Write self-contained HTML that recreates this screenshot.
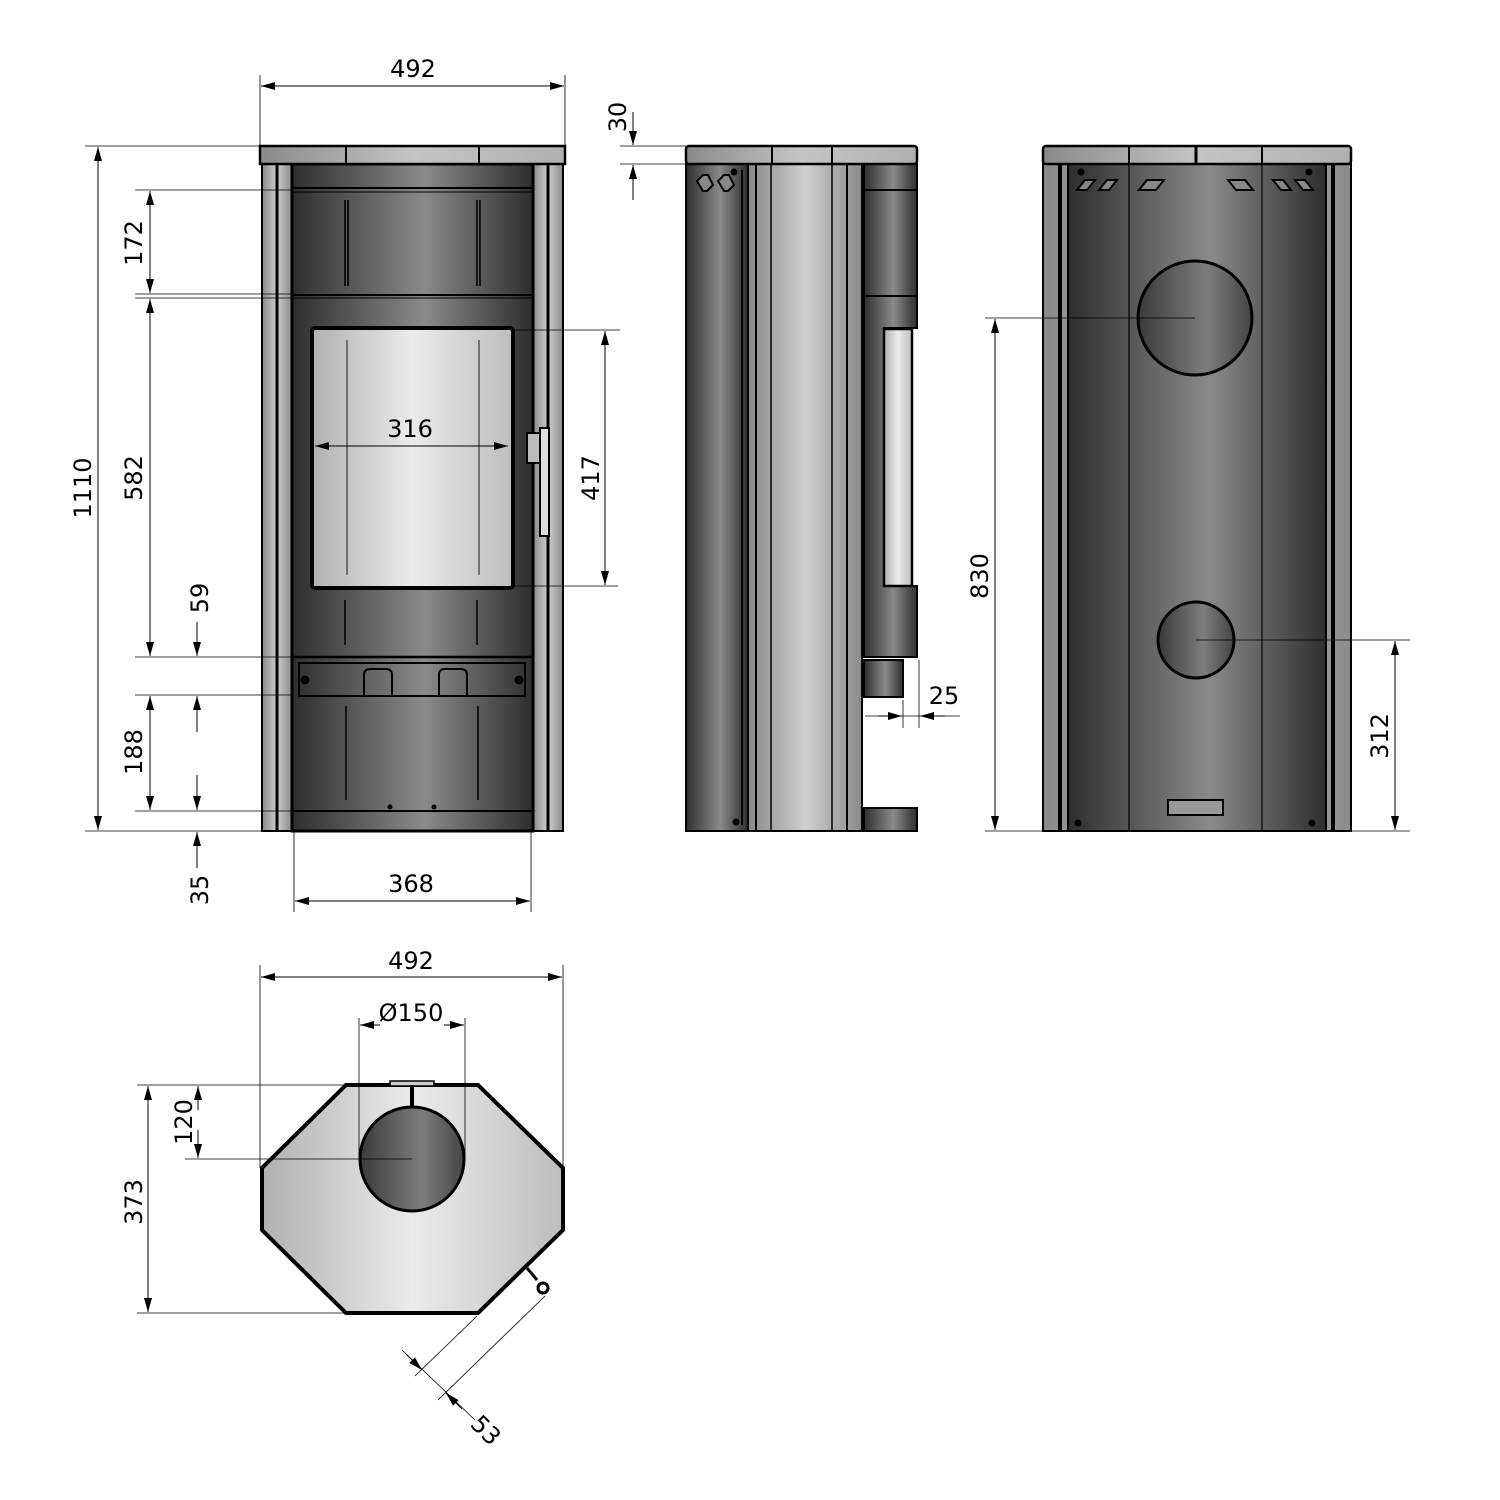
<!DOCTYPE html>
<html><head><meta charset="utf-8"><style>html,body{margin:0;padding:0;background:#fff}svg{display:block}text{font-family:"DejaVu Sans","Liberation Sans",sans-serif;font-size:24px;fill:#000}</style></head><body>
<svg width="1500" height="1500" viewBox="0 0 1500 1500" xmlns="http://www.w3.org/2000/svg">
<defs>
<linearGradient id="dk" x1="0" x2="1" y1="0" y2="0"><stop offset="0" stop-color="#2e2e2e"/><stop offset="0.55" stop-color="#8a8a8a"/><stop offset="1" stop-color="#2e2e2e"/></linearGradient>
<linearGradient id="lt" x1="0" x2="1"><stop offset="0" stop-color="#8a8a8a"/><stop offset="0.5" stop-color="#c4c4c4"/><stop offset="1" stop-color="#b0b0b0"/></linearGradient>
<linearGradient id="win" x1="0" x2="1"><stop offset="0" stop-color="#b0b0b0"/><stop offset="0.5" stop-color="#ebebeb"/><stop offset="1" stop-color="#bdbdbd"/></linearGradient>
<linearGradient id="pil" x1="0" x2="1"><stop offset="0" stop-color="#888"/><stop offset="0.5" stop-color="#cfcfcf"/><stop offset="1" stop-color="#8a8a8a"/></linearGradient>
<linearGradient id="cir" x1="0" x2="1"><stop offset="0" stop-color="#3a3a3a"/><stop offset="0.6" stop-color="#7d7d7d"/><stop offset="1" stop-color="#444"/></linearGradient>
<marker id="a" viewBox="0 0 14 8" refX="14" refY="4" markerWidth="14" markerHeight="8" orient="auto-start-reverse" markerUnits="userSpaceOnUse"><path d="M0,0L14,4L0,8z"/></marker>
</defs>
<g stroke="#000" stroke-width="1" fill="none">
<!-- ===== FRONT VIEW ===== -->
<rect x="262" y="164" width="30" height="667" fill="url(#pil)" stroke-width="2"/>
<line x1="277" y1="164" x2="277" y2="831" stroke-width="3"/>
<rect x="533" y="164" width="30" height="667" fill="url(#pil)" stroke-width="2"/>
<line x1="548" y1="164" x2="548" y2="831" stroke-width="3"/>
<rect x="292" y="164" width="241" height="667" fill="url(#dk)" stroke-width="3"/>
<rect x="260" y="146" width="305" height="18" fill="url(#lt)" stroke-width="2.5"/>
<line x1="346" y1="146" x2="346" y2="164" stroke-width="2"/><line x1="479" y1="146" x2="479" y2="164" stroke-width="2"/>
<line x1="292" y1="188" x2="533" y2="188" stroke-width="2"/><line x1="292" y1="192" x2="533" y2="192" stroke-width="1"/>
<line x1="292" y1="295" x2="533" y2="295" stroke-width="2"/><line x1="292" y1="298" x2="533" y2="298" stroke-width="1"/>
<g stroke-width="1.5"><line x1="345" y1="200" x2="345" y2="286"/><line x1="348" y1="200" x2="348" y2="286"/><line x1="477" y1="200" x2="477" y2="286"/><line x1="480" y1="200" x2="480" y2="286"/>
<line x1="345" y1="600" x2="345" y2="645"/><line x1="477" y1="600" x2="477" y2="645"/>
<line x1="346" y1="706" x2="346" y2="800"/><line x1="478" y1="706" x2="478" y2="800"/></g>
<rect x="312" y="328" width="201" height="260" rx="3" fill="url(#win)" stroke-width="4"/>
<line x1="347" y1="340" x2="347" y2="575" stroke="#555" stroke-width="1.5"/><line x1="479" y1="340" x2="479" y2="575" stroke="#555" stroke-width="1.5"/>
<line x1="292" y1="657" x2="533" y2="657" stroke-width="2.5"/>
<rect x="299" y="663" width="226" height="33" stroke-width="2"/>
<circle cx="305" cy="680" r="4" fill="#000"/><circle cx="519" cy="680" r="4" fill="#000"/>
<path d="M364,697v-22q0,-6 6,-6h16q6,0 6,6v22" stroke-width="2"/><path d="M439,697v-22q0,-6 6,-6h16q6,0 6,6v22" stroke-width="2"/>
<line x1="292" y1="811" x2="533" y2="811" stroke-width="2"/>
<circle cx="390" cy="807" r="2" fill="#000"/><circle cx="434" cy="807" r="2" fill="#000"/>
<rect x="540" y="428" width="9" height="108" fill="#ddd" stroke-width="2"/><rect x="527" y="433" width="13" height="30" fill="#bbb" stroke-width="2"/>
<!-- front dims -->
<g stroke-width="0.8">
<line x1="260" y1="75" x2="260" y2="146"/><line x1="565" y1="75" x2="565" y2="146"/>
<line x1="85" y1="146" x2="260" y2="146"/><line x1="85" y1="831" x2="262" y2="831"/>
<line x1="135" y1="190" x2="292" y2="190"/><line x1="135" y1="294" x2="292" y2="294"/><line x1="135" y1="298" x2="292" y2="298"/>
<line x1="135" y1="657" x2="292" y2="657"/><line x1="135" y1="695" x2="292" y2="695"/><line x1="135" y1="811" x2="292" y2="811"/>
<line x1="294" y1="831" x2="294" y2="912"/><line x1="531" y1="831" x2="531" y2="912"/>
<line x1="512" y1="330" x2="620" y2="330"/><line x1="512" y1="586" x2="618" y2="586"/>
</g>
<g stroke-width="1" marker-start="url(#a)" marker-end="url(#a)">
<line x1="261" y1="86" x2="564" y2="86"/>
<line x1="98" y1="147" x2="98" y2="830"/>
<line x1="150" y1="191" x2="150" y2="293"/>
<line x1="150" y1="299" x2="150" y2="656"/>
<line x1="150" y1="696" x2="150" y2="810"/>
<line x1="295" y1="901" x2="530" y2="901"/>
<line x1="315" y1="446" x2="508" y2="446"/>
<line x1="605" y1="331" x2="605" y2="585"/>
</g>
<g stroke-width="1" marker-end="url(#a)">
<line x1="197" y1="622" x2="197" y2="656"/><line x1="197" y1="732" x2="197" y2="696"/>
<line x1="197" y1="775" x2="197" y2="810"/><line x1="197" y1="868" x2="197" y2="832"/>
</g>
<!-- ===== SIDE VIEW ===== -->
<rect x="686" y="164" width="62" height="667" fill="url(#dk)" stroke-width="2"/>
<rect x="748" y="164" width="114" height="667" fill="url(#pil)" stroke-width="2"/>
<line x1="756" y1="164" x2="756" y2="831" stroke-width="2"/><line x1="771" y1="164" x2="771" y2="831" stroke-width="1.5"/>
<line x1="832" y1="164" x2="832" y2="831" stroke-width="1.5"/><line x1="847" y1="164" x2="847" y2="831" stroke-width="2"/>
<line x1="742" y1="170" x2="742" y2="825" stroke-width="2"/>
<path d="M864,164H917V328H884V586H917V657H864Z" fill="url(#dk)" stroke-width="2"/>
<line x1="864" y1="190" x2="917" y2="190" stroke-width="2"/><line x1="864" y1="296" x2="917" y2="296" stroke-width="2"/>
<rect x="884" y="329" width="28" height="257" fill="url(#win)" stroke-width="2.5"/>
<path d="M864,660H903V697H864Z" fill="url(#dk)" stroke-width="2"/>
<rect x="864" y="808" width="53" height="23" fill="url(#dk)" stroke-width="2"/>
<rect x="686" y="146" width="231" height="18" rx="3" fill="url(#lt)" stroke-width="2.5"/>
<line x1="772" y1="146" x2="772" y2="164" stroke-width="2"/><line x1="832" y1="146" x2="832" y2="164" stroke-width="2"/>
<g fill="#888" stroke-width="2"><path d="M697,181l6,-6h5l5,10-6,6h-4z"/><path d="M718,181l6,-6h5l5,10-6,6h-4z"/></g>
<circle cx="734" cy="172" r="3" fill="#000"/><circle cx="736" cy="822" r="3" fill="#000"/>
<g stroke-width="0.8"><line x1="620" y1="146" x2="686" y2="146"/><line x1="620" y1="164" x2="686" y2="164"/>
<line x1="903" y1="700" x2="903" y2="728"/><line x1="919" y1="660" x2="919" y2="728"/><line x1="865" y1="716" x2="960" y2="716"/></g>
<g stroke-width="1" marker-end="url(#a)">
<line x1="633" y1="112" x2="633" y2="145"/><line x1="633" y1="200" x2="633" y2="165"/>
<line x1="878" y1="716" x2="902" y2="716"/><line x1="945" y1="716" x2="920" y2="716"/>
</g>
<!-- ===== BACK VIEW ===== -->
<rect x="1043" y="164" width="308" height="667" fill="url(#pil)" stroke-width="2"/>
<rect x="1068" y="164" width="258" height="667" fill="url(#dk)" stroke-width="2"/>
<line x1="1060" y1="164" x2="1060" y2="831" stroke-width="4"/><line x1="1333" y1="164" x2="1333" y2="831" stroke-width="4"/>
<line x1="1129" y1="164" x2="1129" y2="831" stroke-width="1.2"/><line x1="1262" y1="164" x2="1262" y2="831" stroke-width="1.2"/>
<rect x="1043" y="146" width="308" height="18" rx="3" fill="url(#lt)" stroke-width="2.5"/>
<line x1="1129" y1="146" x2="1129" y2="164" stroke-width="2"/><line x1="1196" y1="146" x2="1196" y2="164" stroke-width="3"/><line x1="1262" y1="146" x2="1262" y2="164" stroke-width="2"/>
<g fill="#888" stroke-width="2">
<path d="M1077,190l8,-10h10l-8,10z"/><path d="M1099,190l8,-10h10l-8,10z"/><path d="M1139,190l8,-10h17l-8,10z"/>
<path d="M1253,190l-8,-10h-17l8,10z"/><path d="M1291,190l-8,-10h-10l8,10z"/><path d="M1313,190l-8,-10h-10l8,10z"/></g>
<circle cx="1081" cy="172" r="3" fill="#000"/><circle cx="1309" cy="172" r="3" fill="#000"/>
<circle cx="1078" cy="823" r="3" fill="#000"/><circle cx="1312" cy="823" r="3" fill="#000"/>
<circle cx="1195" cy="318" r="57" fill="url(#cir)" stroke-width="3"/>
<circle cx="1196" cy="640" r="38" fill="url(#cir)" stroke-width="3"/>
<rect x="1168" y="800" width="55" height="15" fill="#999" stroke-width="2"/>
<g stroke-width="0.8"><line x1="985" y1="318" x2="1195" y2="318"/><line x1="985" y1="831" x2="1043" y2="831"/>
<line x1="1196" y1="640" x2="1410" y2="640"/><line x1="1351" y1="831" x2="1410" y2="831"/></g>
<g stroke-width="1" marker-start="url(#a)" marker-end="url(#a)">
<line x1="995" y1="319" x2="995" y2="830"/><line x1="1395" y1="641" x2="1395" y2="830"/></g>
<!-- ===== TOP VIEW ===== -->
<polygon points="346,1085 478,1085 563,1168 563,1230 478,1313 346,1313 262,1230 262,1168" fill="url(#win)" stroke-width="4"/>
<rect x="390" y="1081" width="44" height="5" fill="#ccc" stroke-width="1.5"/>
<line x1="412" y1="1085" x2="412" y2="1108" stroke-width="4"/>
<circle cx="412" cy="1159" r="52" fill="url(#cir)" stroke-width="3"/>
<path d="M527,1268l10,12" stroke-width="3"/><circle cx="543" cy="1288" r="5" fill="#fff" stroke-width="3"/>
<g stroke-width="0.8">
<line x1="260" y1="965" x2="260" y2="1168"/><line x1="563" y1="965" x2="563" y2="1168"/>
<line x1="359" y1="1018" x2="359" y2="1159"/><line x1="465" y1="1018" x2="465" y2="1159"/>
<line x1="137" y1="1085" x2="346" y2="1085"/><line x1="185" y1="1159" x2="412" y2="1159"/><line x1="137" y1="1313" x2="346" y2="1313"/>
<line x1="477" y1="1316" x2="415" y2="1376"/><line x1="545" y1="1296" x2="438" y2="1400"/>
<line x1="402" y1="1350" x2="475" y2="1420"/>
</g>
<g stroke-width="1" marker-start="url(#a)" marker-end="url(#a)">
<line x1="261" y1="977" x2="562" y2="977"/><line x1="148" y1="1086" x2="148" y2="1312"/></g>
<g stroke-width="1" marker-end="url(#a)">
<line x1="380" y1="1025" x2="360" y2="1025"/><line x1="444" y1="1025" x2="464" y2="1025"/>
<line x1="198" y1="1110" x2="198" y2="1086"/><line x1="198" y1="1130" x2="198" y2="1158"/>
<line x1="406" y1="1354" x2="422" y2="1370"/><line x1="462" y1="1409" x2="446" y2="1393"/>
</g>
</g>
<!-- texts -->
<text x="413" y="77" text-anchor="middle">492</text>
<text x="410" y="437" text-anchor="middle">316</text>
<text x="411" y="892" text-anchor="middle">368</text>
<text x="411" y="969" text-anchor="middle">492</text>
<text x="411" y="1021" text-anchor="middle">Ø150</text>
<text x="944" y="704" text-anchor="middle">25</text>
<text transform="translate(91,488) rotate(-90)" text-anchor="middle">1110</text>
<text transform="translate(142,243) rotate(-90)" text-anchor="middle">172</text>
<text transform="translate(142,478) rotate(-90)" text-anchor="middle">582</text>
<text transform="translate(142,752) rotate(-90)" text-anchor="middle">188</text>
<text transform="translate(208,598) rotate(-90)" text-anchor="middle">59</text>
<text transform="translate(208,890) rotate(-90)" text-anchor="middle">35</text>
<text transform="translate(599,478) rotate(-90)" text-anchor="middle">417</text>
<text transform="translate(626,117) rotate(-90)" text-anchor="middle">30</text>
<text transform="translate(988,576) rotate(-90)" text-anchor="middle">830</text>
<text transform="translate(1388,736) rotate(-90)" text-anchor="middle">312</text>
<text transform="translate(142,1202) rotate(-90)" text-anchor="middle">373</text>
<text transform="translate(192,1122) rotate(-90)" text-anchor="middle">120</text>
<text transform="translate(480,1436) rotate(45)" text-anchor="middle">53</text>
</svg>
</body></html>
